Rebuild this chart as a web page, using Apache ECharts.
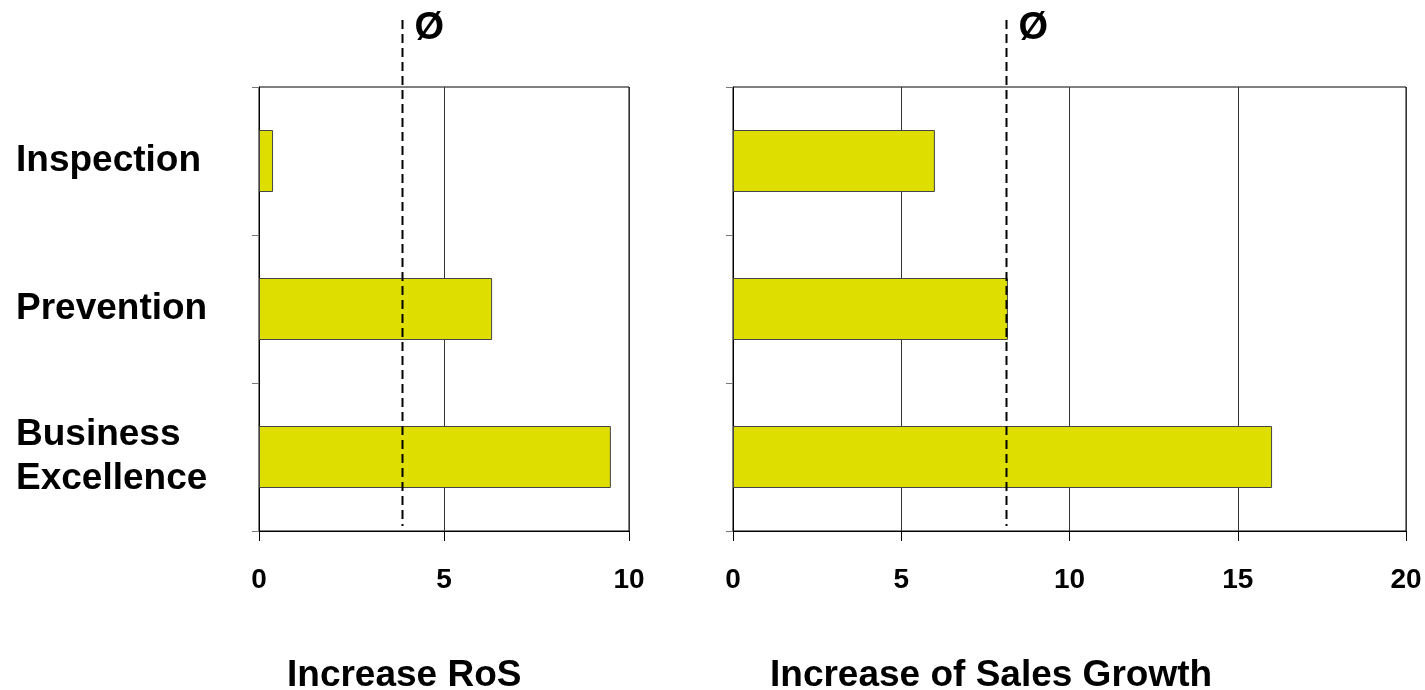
<!DOCTYPE html>
<html><head><meta charset="utf-8">
<script src="https://cdn.jsdelivr.net/npm/echarts@6/dist/echarts.min.js"></script>
<style>html,body{margin:0;padding:0;background:#fff}#c{width:1425px;height:690px}</style>
</head><body><div id="c"></div>
<script>
// ---- data ----
const categories = ['Inspection', 'Prevention', 'Business\nExcellence'];
const rosValues = [0.38, 6.3, 9.51];
const salesGrowthValues = [6.0, 8.17, 16.02];
const rosAverage = 3.86;
const salesGrowthAverage = 8.11;
const rosAxis = [0, 10, 5];        // min, max, interval
const salesAxis = [0, 20, 5];
const chartTitles = ['Increase RoS', 'Increase of Sales Growth'];
const avgSymbol = 'Ø';

// ---- styles ----
const FONT = '"Liberation Sans", Arial, sans-serif';
const BAR_COLOR = '#dede00';

const chart = echarts.init(document.getElementById('c'), null, { renderer: 'canvas' });

function xAxisCfg(gridIndex, ax) {
  return {
    type: 'value', gridIndex: gridIndex, min: ax[0], max: ax[1], interval: ax[2],
    axisLine: { show: true, lineStyle: { color: '#000', width: 1 } },
    axisTick: { show: true, length: 10, lineStyle: { color: '#000' } },
    axisLabel: { margin: 35, fontSize: 28, fontWeight: 'bold', color: '#000', fontFamily: FONT },
    splitLine: { show: true, lineStyle: { color: '#333', width: 1 } }
  };
}
function yAxisCfg(gridIndex, showLabels) {
  return {
    type: 'category', gridIndex: gridIndex, data: categories, inverse: true,
    axisLine: { show: true, lineStyle: { color: '#000', width: 1 } },
    axisTick: { show: true, length: 7, lineStyle: { color: '#777' } },
    axisLabel: {
      show: showLabels, align: 'left', margin: 243, fontSize: 37, fontWeight: 'bold',
      color: '#000', fontFamily: FONT, lineHeight: 44
    },
    splitLine: { show: false }
  };
}
function barSeries(idx, values) {
  return {
    type: 'bar', xAxisIndex: idx, yAxisIndex: idx, data: values, barWidth: 62,
    itemStyle: { color: BAR_COLOR, borderColor: '#444', borderWidth: 1 },
    silent: true
  };
}

chart.setOption({
  animation: false,
  backgroundColor: '#fff',
  grid: [
    { left: 259, right: 796, top: 87, bottom: 159, show: true, borderColor: '#000', borderWidth: 1 },
    { left: 733, right: 19, top: 87, bottom: 159, show: true, borderColor: '#000', borderWidth: 1 }
  ],
  xAxis: [xAxisCfg(0, rosAxis), xAxisCfg(1, salesAxis)],
  yAxis: [yAxisCfg(0, true), yAxisCfg(1, false)],
  series: [barSeries(0, rosValues), barSeries(1, salesGrowthValues)],
  title: [
    { text: chartTitles[0], left: 282, top: 652,
      textStyle: { fontSize: 37, fontWeight: 'bold', color: '#000', fontFamily: FONT } },
    { text: chartTitles[1], left: 765, top: 652,
      textStyle: { fontSize: 37, fontWeight: 'bold', color: '#000', fontFamily: FONT } }
  ]
});

// average lines via the library's scale
const avgs = [rosAverage, salesGrowthAverage];
const graphics = [];
avgs.forEach(function (v, i) {
  const x = Math.round(chart.convertToPixel({ xAxisIndex: i }, v)) + 0.5;
  graphics.push({
    type: 'line', silent: true, z: 100,
    shape: { x1: x, y1: 20, x2: x, y2: 526 },
    style: { stroke: '#000', lineWidth: 2, lineDash: [9, 5] }
  });
  graphics.push({
    type: 'text', silent: true, z: 100, x: x + 12, y: 10,
    style: { text: avgSymbol, fontSize: 38, fontWeight: 'bold', fill: '#000', fontFamily: FONT }
  });
});
chart.setOption({ graphic: graphics });
</script>
</body></html>
